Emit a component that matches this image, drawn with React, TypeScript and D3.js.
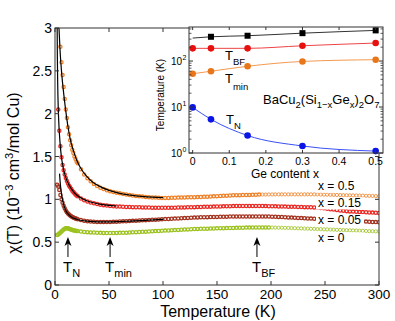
import React from 'react';
import * as d3 from 'd3';

// temperatures (K) shared by all susceptibility curves
const temps = [
  2, 3, 4, 5, 6, 7, 8, 9, 10, 11, 12, 13, 14, 15, 16, 17, 18, 19, 20,
  21, 24, 27, 30, 33, 36, 39, 42, 45, 48, 51, 54, 57, 60, 63, 66, 69, 72, 75, 78,
  81, 84, 87, 90, 93, 96, 99, 102, 105, 108, 111, 114, 117, 120, 123, 126, 129, 132, 135, 138,
  141, 144, 147, 150, 153, 156, 159, 162, 165, 168, 171, 174, 177, 180, 183, 186, 189, 192, 195, 198,
  201, 204, 207, 210, 213, 216, 219, 222, 225, 228, 231, 234, 237, 240, 243, 246, 249, 252, 255, 258,
  261, 264, 267, 270, 273, 276, 279, 282, 285, 288, 291, 294, 297, 300,
];

// chi(T) in 10^-3 cm^3/mol Cu
const chiX05 = [
  null, null, 3.15, 2.78, 2.6, 2.45, 2.31, 2.17, 2.05, 1.95, 1.84, 1.76, 1.69, 1.63, 1.58, 1.54, 1.5, 1.47, 1.44,
  1.42, 1.35, 1.29, 1.245, 1.21, 1.18, 1.155, 1.135, 1.12, 1.105, 1.095, 1.085, 1.078, 1.07, 1.063, 1.057, 1.05, 1.045, 1.04, 1.035,
  1.032, 1.028, 1.025, 1.022, 1.02, 1.018, 1.017, 1.017, 1.017, 1.018, 1.019, 1.02, 1.021, 1.022, 1.023, 1.024, 1.025, 1.026, 1.027, 1.029,
  1.031, 1.033, 1.035, 1.037, 1.039, 1.041, 1.043, 1.045, 1.047, 1.048, 1.049, 1.05, 1.051, 1.052, 1.053, 1.054, 1.055, 1.056, 1.056, 1.057,
  1.057, 1.058, 1.058, 1.058, 1.058, 1.058, 1.058, 1.058, 1.058, 1.058, 1.058, 1.058, 1.058, 1.058, 1.057, 1.056, 1.055, 1.054, 1.053, 1.052,
  1.051, 1.05, 1.049, 1.048, 1.047, 1.046, 1.045, 1.044, 1.043, 1.042, 1.041, 1.04, 1.038, 1.036,
];
const chiX015 = [
  null, 2.05, 1.8, 1.62, 1.49, 1.4, 1.34, 1.29, 1.25, 1.215, 1.185, 1.16, 1.14, 1.12, 1.1, 1.085, 1.07, 1.057, 1.045,
  1.035, 1.01, 0.99, 0.975, 0.963, 0.953, 0.945, 0.938, 0.932, 0.927, 0.923, 0.92, 0.917, 0.915, 0.913, 0.911, 0.91, 0.909, 0.908, 0.907,
  0.906, 0.905, 0.904, 0.903, 0.903, 0.902, 0.902, 0.902, 0.902, 0.903, 0.903, 0.904, 0.905, 0.906, 0.907, 0.908, 0.909, 0.91, 0.911, 0.912,
  0.913, 0.914, 0.915, 0.916, 0.917, 0.918, 0.919, 0.92, 0.921, 0.922, 0.922, 0.923, 0.923, 0.923, 0.923, 0.923, 0.922, 0.922, 0.921, 0.92,
  0.919, 0.918, 0.917, 0.916, 0.915, 0.914, 0.913, 0.912, 0.911, 0.91, 0.909, 0.908, 0.907, 0.906, 0.905, 0.9, 0.895, 0.89, 0.885, 0.88,
  0.875, 0.87, 0.866, 0.862, 0.859, 0.857, 0.855, 0.853, 0.851, 0.849, 0.847, 0.845, 0.843, 0.841,
];
const chiX005 = [
  1.17, 1.15, 1.11, 1.05, 1.0, 0.96, 0.925, 0.895, 0.87, 0.85, 0.835, 0.822, 0.811, 0.802, 0.795, 0.788, 0.782, 0.777, 0.772,
  0.768, 0.758, 0.75, 0.745, 0.741, 0.738, 0.736, 0.735, 0.735, 0.735, 0.736, 0.737, 0.739, 0.741, 0.743, 0.745, 0.747, 0.749, 0.751, 0.753,
  0.755, 0.757, 0.759, 0.761, 0.763, 0.765, 0.767, 0.769, 0.771, 0.773, 0.775, 0.777, 0.779, 0.781, 0.783, 0.785, 0.787, 0.789, 0.79, 0.791,
  0.792, 0.793, 0.794, 0.795, 0.796, 0.797, 0.798, 0.799, 0.8, 0.8, 0.8, 0.8, 0.8, 0.8, 0.8, 0.8, 0.8, 0.8, 0.8, 0.799,
  0.798, 0.797, 0.795, 0.793, 0.791, 0.789, 0.787, 0.785, 0.783, 0.781, 0.779, 0.777, 0.775, 0.773, 0.771, 0.77, 0.767, 0.764, 0.761, 0.758,
  0.755, 0.752, 0.75, 0.748, 0.746, 0.745, 0.744, 0.743, 0.742, 0.74, 0.738, 0.736, 0.734, 0.732,
];
const chiX0 = [
  0.585, 0.59, 0.6, 0.612, 0.625, 0.637, 0.648, 0.656, 0.661, 0.663, 0.661, 0.657, 0.652, 0.647, 0.643, 0.639, 0.636, 0.633, 0.631,
  0.629, 0.624, 0.62, 0.617, 0.614, 0.612, 0.61, 0.609, 0.608, 0.607, 0.607, 0.607, 0.608, 0.609, 0.61, 0.611, 0.613, 0.615, 0.617, 0.619,
  0.621, 0.623, 0.625, 0.627, 0.629, 0.631, 0.633, 0.635, 0.637, 0.639, 0.641, 0.643, 0.645, 0.647, 0.649, 0.651, 0.653, 0.655, 0.656, 0.657,
  0.658, 0.659, 0.66, 0.661, 0.662, 0.663, 0.664, 0.665, 0.666, 0.667, 0.668, 0.669, 0.67, 0.67, 0.671, 0.671, 0.672, 0.672, 0.672, 0.672,
  0.671, 0.67, 0.669, 0.668, 0.667, 0.666, 0.665, 0.663, 0.662, 0.661, 0.659, 0.658, 0.656, 0.655, 0.653, 0.652, 0.65, 0.649, 0.647, 0.646,
  0.644, 0.643, 0.641, 0.64, 0.638, 0.637, 0.635, 0.634, 0.632, 0.631, 0.629, 0.628, 0.626, 0.625,
];

// low temperature fits (black lines)
const fitT05 = [3.7, 4.5, 5, 6, 7, 8, 9, 10, 12, 14, 16, 18, 20, 25, 30, 35, 40, 50, 60, 70, 80, 90, 100];
const fit05 = [3.0, 2.78, 2.67, 2.5, 2.36, 2.24, 2.13, 2.03, 1.85, 1.71, 1.61, 1.53, 1.46, 1.34, 1.26, 1.2, 1.16, 1.105, 1.07, 1.05, 1.035, 1.025, 1.02];
const fitT015 = [2.0, 2.2, 2.5, 3, 3.5, 4, 5, 6, 7, 8, 10, 12, 15, 20, 25, 30, 40, 50, 57];
const fit015 = [3.0, 2.65, 2.35, 2.07, 1.9, 1.78, 1.61, 1.49, 1.41, 1.345, 1.255, 1.19, 1.125, 1.05, 1.01, 0.98, 0.948, 0.93, 0.922];
const fitT005 = [4.2, 5, 6, 7, 8, 9, 10, 12, 15, 20, 25, 30, 40, 50, 60, 70, 80, 90, 100];
const fit005 = [1.3, 1.17, 1.07, 0.995, 0.94, 0.9, 0.87, 0.83, 0.795, 0.768, 0.753, 0.745, 0.737, 0.736, 0.74, 0.746, 0.752, 0.759, 0.766];

// inset: characteristic temperatures vs Ge content
const geContent = [0, 0.05, 0.15, 0.3, 0.5];
const tUpper = [316, 337, 355, 404, 464];
const tBF = [189, 189, 189, 215, 246];
const tMin = [53, 60, 77, 98, 107];
const tN = [9.8, 5.4, 2.4, 1.42, 1.1];

const xTicks = [0, 50, 100, 150, 200, 250, 300];
const yTicks = [0, 0.5, 1, 1.5, 2, 2.5, 3];
const yTickLabels = ['0', '0.5', '1', '1.5', '2', '2.5', '3'];
const insetXTicks = [0, 0.1, 0.2, 0.3, 0.4, 0.5];
const insetXTickLabels = ['0', '0.1', '0.2', '0.3', '0.4', '0.5'];
const insetYTicks = [1, 10, 100];
const insetYTickExp = ['0', '1', '2'];
const arrowT = [12, 51, 187];
const arrowSubs = ['N', 'min', 'BF'];

const font = 'Liberation Sans, Arial, Helvetica, sans-serif';

export default function App() {
  const W = 395;
  const H = 321;
  const x = d3.scaleLinear().domain([0, 300]).range([55, 379]);
  const y = d3.scaleLinear().domain([0, 3]).range([285, 28]);

  const ix = d3.scaleLinear().domain([-0.01, 0.52]).range([189, 383]);
  const iy = d3.scaleLog().domain([1, 550]).range([153, 27]);

  const series = [
    { vals: chiX0, color: '#9cc21e', dense: 200 },
    { vals: chiX005, color: '#a4321f', dense: 300 },
    { vals: chiX015, color: '#ea2a24', dense: 300 },
    { vals: chiX05, color: '#ef8128', dense: 190 },
  ];
  const fits = [
    [fitT05, fit05],
    [fitT015, fit015],
    [fitT005, fit005],
  ];

  const fitLine = d3
    .line<[number, number]>()
    .x(d => x(d[0]))
    .y(d => y(d[1]))
    .curve(d3.curveMonotoneX);

  const insetLine = d3
    .line<[number, number]>()
    .x(d => ix(d[0]))
    .y(d => iy(d[1]))
    .curve(d3.curveMonotoneX);

  const insetSeries = [
    { vals: tUpper, line: '#333', color: '#000', square: true },
    { vals: tBF, line: '#ee4444', color: '#e8100e', square: false },
    { vals: tMin, line: '#f39a50', color: '#e8761a', square: false },
    { vals: tN, line: '#3a50f5', color: '#0a14e6', square: false },
  ];

  // minor log ticks of the inset
  const minorTicks: number[] = [];
  [1, 10, 100].forEach(dec => {
    for (let k = 2; k <= 9; k++) {
      if (dec * k <= 550) minorTicks.push(dec * k);
    }
  });

  const labels = [
    { text: 'x = 0.5', y: 190 },
    { text: 'x = 0.15', y: 207 },
    { text: 'x = 0.05', y: 224 },
    { text: 'x = 0', y: 242 },
  ];

  return (
    <svg
      width={W}
      height={H}
      style={{ position: 'absolute', left: 0, top: 0, background: '#fff' }}
      fontFamily={font}
    >
      <defs>
        <clipPath id="plotClip">
          <rect x={55} y={28} width={324} height={257} />
        </clipPath>
      </defs>
      <rect x={0} y={0} width={W} height={H} fill="#fff" />

      {/* data */}
      <g clipPath="url(#plotClip)">
        {series.map((s, si) => (
          <g key={si}>
            {temps.map((t, i) =>
              s.vals[i] == null ? null : (
                <circle
                  key={i}
                  cx={x(t)}
                  cy={y(s.vals[i] as number)}
                  r={1.6}
                  fill="none"
                  stroke={s.color}
                  strokeWidth={t <= s.dense ? 1.3 : 0.8}
                />
              )
            )}
          </g>
        ))}
        {fits.map((f, fi) => (
          <path
            key={fi}
            d={fitLine(f[0].map((t, i) => [t, f[1][i]] as [number, number])) || ''}
            fill="none"
            stroke="#000"
            strokeWidth={1.2}
          />
        ))}
      </g>

      {/* series labels */}
      {labels.map((l, i) => (
        <g key={i}>
          <rect x={316} y={l.y - 9.5} width={48} height={12} fill="#fff" />
          <text x={318} y={l.y} fontSize={12} fill="#000">
            {l.text}
          </text>
        </g>
      ))}

      {/* arrows */}
      {arrowT.map((t, i) => {
        const ax = x(t);
        const tip = y(0.56);
        return (
          <g key={i}>
            <line x1={ax} x2={ax} y1={tip + 5} y2={tip + 20} stroke="#000" strokeWidth={1} />
            <path
              d={`M${ax},${tip} L${ax - 3.5},${tip + 9} L${ax},${tip + 6.5} L${ax + 3.5},${tip + 9} Z`}
              fill="#000"
            />
            <text x={ax - 5} y={272} fontSize={15} fill="#000">
              T
              <tspan dy={5} fontSize={11}>
                {arrowSubs[i]}
              </tspan>
            </text>
          </g>
        );
      })}

      {/* main frame and ticks */}
      <rect x={55} y={28} width={324} height={257} fill="none" stroke="#333" strokeWidth={1} />
      {xTicks.map(t => (
        <g key={t}>
          <line x1={x(t)} x2={x(t)} y1={285} y2={281} stroke="#333" />
          <line x1={x(t)} x2={x(t)} y1={28} y2={32} stroke="#333" />
          <text x={x(t)} y={299} fontSize={13.5} textAnchor="middle" fill="#000">
            {t}
          </text>
        </g>
      ))}
      {yTicks.map((v, i) => (
        <g key={v}>
          <line x1={55} x2={59} y1={y(v)} y2={y(v)} stroke="#333" />
          <line x1={379} x2={375} y1={y(v)} y2={y(v)} stroke="#333" />
          <text x={52} y={y(v) + 5} fontSize={14} textAnchor="end" fill="#000">
            {yTickLabels[i]}
          </text>
        </g>
      ))}
      <text x={218} y={317} fontSize={16} textAnchor="middle" fill="#000">
        Temperature (K)
      </text>
      <text transform="translate(18.5,173) rotate(-90)" fontSize={16} textAnchor="middle" fill="#000">
        χ(T) (10
        <tspan dy={-6} fontSize={11}>
          −3
        </tspan>
        <tspan dy={6}> cm</tspan>
        <tspan dy={-6} fontSize={11}>
          3
        </tspan>
        <tspan dy={6}>/mol Cu)</tspan>
      </text>

      {/* inset */}
      <rect x={189} y={27} width={194} height={126} fill="#fff" />
      {insetSeries.map((s, si) => (
        <g key={si}>
          <path
            d={insetLine(geContent.map((g, i) => [g, s.vals[i]] as [number, number])) || ''}
            fill="none"
            stroke={s.line}
            strokeWidth={1}
          />
          {geContent.map((g, i) =>
            s.square ? (
              i === 0 ? null : (
                <rect key={i} x={ix(g) - 3} y={iy(s.vals[i]) - 3} width={6} height={6} fill={s.color} />
              )
            ) : (
              <circle key={i} cx={ix(g)} cy={iy(s.vals[i])} r={3.3} fill={s.color} />
            )
          )}
        </g>
      ))}
      <rect x={189} y={27} width={194} height={126} fill="none" stroke="#333" strokeWidth={1} />
      {insetXTicks.map((t, i) => (
        <g key={t}>
          <line x1={ix(t)} x2={ix(t)} y1={153} y2={150} stroke="#333" />
          <line x1={ix(t)} x2={ix(t)} y1={27} y2={30} stroke="#333" />
          <text x={ix(t)} y={165} fontSize={10.5} textAnchor="middle" fill="#000">
            {insetXTickLabels[i]}
          </text>
        </g>
      ))}
      {insetYTicks.map((v, i) => (
        <g key={v}>
          <line x1={189} x2={193} y1={iy(v)} y2={iy(v)} stroke="#333" />
          <line x1={383} x2={379} y1={iy(v)} y2={iy(v)} stroke="#333" />
          <text x={182} y={iy(v) + 4} fontSize={10} textAnchor="end" fill="#000">
            10
          </text>
          <text x={182.5} y={iy(v) - 1} fontSize={7} fill="#000">
            {insetYTickExp[i]}
          </text>
        </g>
      ))}
      {minorTicks.map(v => (
        <g key={v}>
          <line x1={189} x2={191.5} y1={iy(v)} y2={iy(v)} stroke="#333" strokeWidth={0.8} />
          <line x1={383} x2={380.5} y1={iy(v)} y2={iy(v)} stroke="#333" strokeWidth={0.8} />
        </g>
      ))}
      <text x={285} y={178} fontSize={12} textAnchor="middle" fill="#000">
        Ge content x
      </text>
      <text transform="translate(164,95) rotate(-90)" fontSize={10} textAnchor="middle" fill="#000">
        Temperature (K)
      </text>
      <text x={225} y={60} fontSize={13} fill="#000">
        T<tspan dy={5} fontSize={9.5}>BF</tspan>
      </text>
      <text x={225} y={83} fontSize={13} fill="#000">
        T<tspan dy={7} fontSize={9.5}>min</tspan>
      </text>
      <text x={226} y={124} fontSize={13} fill="#000">
        T<tspan dy={5} fontSize={9.5}>N</tspan>
      </text>
      <text x={263} y={104} fontSize={13} fill="#000">
        BaCu<tspan dy={4} fontSize={9.5}>2</tspan>
        <tspan dy={-4}>(Si</tspan>
        <tspan dy={4} fontSize={9.5}>1−x</tspan>
        <tspan dy={-4}>Ge</tspan>
        <tspan dy={4} fontSize={9.5}>x</tspan>
        <tspan dy={-4}>)</tspan>
        <tspan dy={4} fontSize={9.5}>2</tspan>
        <tspan dy={-4}>O</tspan>
        <tspan dy={4} fontSize={9.5}>7</tspan>
      </text>
    </svg>
  );
}
